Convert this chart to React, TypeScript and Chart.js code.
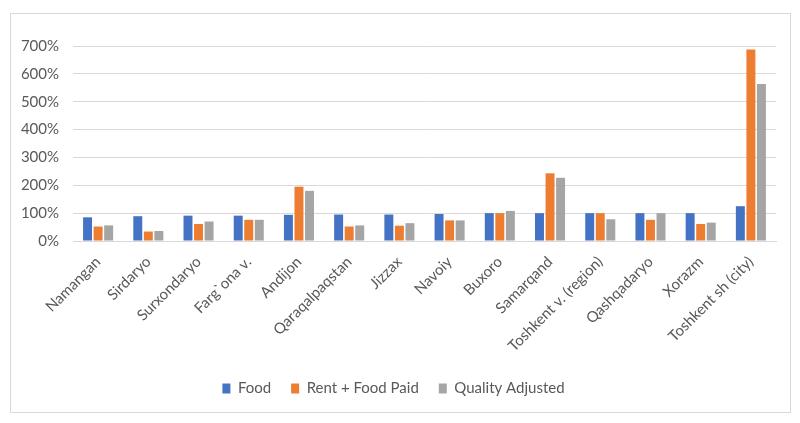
import { useEffect, useRef } from "react";
import { Chart, registerables } from "chart.js";
Chart.register(...registerables);

const regions = [
  "Namangan", "Sirdaryo", "Surxondaryo", "Farg`ona v.", "Andijon", "Qaraqalpaqstan", "Jizzax",
  "Navoiy", "Buxoro", "Samarqand", "Toshkent v. (region)", "Qashqadaryo", "Xorazm", "Toshkent sh (city)",
];
const food = [85, 89, 91, 91, 94, 95, 95, 97, 100, 100, 100, 100, 100, 125];
const rentFood = [52, 34, 61, 76, 195, 52, 55, 74, 100, 243, 100, 76, 61, 687];
const qualityAdj = [56, 36, 70, 76, 180, 56, 64, 74, 108, 227, 78, 100, 66, 564];
const yTicks = [0, 100, 200, 300, 400, 500, 600, 700];

const FONT = "Lato, 'Open Sans', sans-serif";
const TEXT = "#595959";

export default function App() {
  const canvasRef = useRef<HTMLCanvasElement | null>(null);

  useEffect(() => {
    if (!canvasRef.current) return;
    const chart = new Chart(canvasRef.current, {
      type: "bar",
      data: {
        labels: regions,
        datasets: [
          { label: "Food", data: food, backgroundColor: "#4472C4" },
          { label: "Rent + Food Paid", data: rentFood, backgroundColor: "#ED7D31" },
          { label: "Quality Adjusted", data: qualityAdj, backgroundColor: "#A5A5A5" },
        ],
      },
      options: {
        responsive: false,
        animation: false,
        layout: { padding: { left: 0, right: 14, top: 32, bottom: 6 } },
        datasets: { bar: { categoryPercentage: 0.63, barPercentage: 0.85 } },
        plugins: {
          tooltip: { enabled: false },
          legend: {
            position: "bottom",
            labels: {
              boxWidth: 8,
              boxHeight: 10,
              padding: 20,
              color: TEXT,
              font: { family: FONT, size: 15 },
            },
          },
        },
        scales: {
          x: {
            afterFit: (axis: any) => { axis.height = 120; },
            grid: { display: false },
            border: { color: "#d9d9d9" },
            ticks: {
              color: TEXT,
              minRotation: 45,
              maxRotation: 45,
              padding: 4,
              font: { family: FONT, size: 15 },
            },
          },
          y: {
            min: 0,
            max: 700,
            afterFit: (axis: any) => { axis.width = 62; },
            afterBuildTicks: (axis: any) => { axis.ticks = yTicks.map((v) => ({ value: v })); },
            grid: { color: "#d9d9d9", drawTicks: false },
            border: { display: false },
            ticks: {
              padding: 14,
              color: TEXT,
              font: { family: FONT, size: 15 },
              callback: (v: any) => v + "%",
            },
          },
        },
      },
    });
    return () => chart.destroy();
  }, []);

  return (
    <div
      style={{
        position: "absolute",
        left: 10,
        top: 13,
        width: 779,
        height: 398,
        border: "1px solid #d9d9d9",
        background: "#fff",
      }}
    >
      <canvas ref={canvasRef} width={779} height={398} />
    </div>
  );
}
